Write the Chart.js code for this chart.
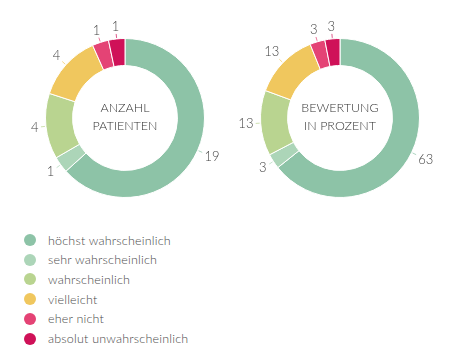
<!DOCTYPE html>
<html>
<head>
<meta charset="utf-8">
<script src="https://cdn.jsdelivr.net/npm/chart.js@4"></script>
<style>
  html, body { margin:0; padding:0; background:#fff; width:474px; height:359px; overflow:hidden; }
  body { position:relative; font-family: "Lato", "Open Sans", sans-serif; }
  .wrap { position:absolute; width:240px; height:220px; }
  #legend { position:absolute; left:0; top:230px; }
  .row { position:absolute; left:0; height:20px; display:flex; align-items:center; white-space:nowrap; }
  .dot { position:absolute; left:23.5px; width:12px; height:12px; border-radius:50%; }
  .lbl { position:absolute; left:48px; font-size:12.5px; font-weight:300; color:#4a4a4a; letter-spacing:0.2px; }
</style>
</head>
<body>
<div class="wrap" style="left:4.5px; top:7.5px;"><canvas id="c1" width="240" height="220"></canvas></div>
<div class="wrap" style="left:219.5px; top:7.5px;"><canvas id="c2" width="240" height="220"></canvas></div>
<div id="legend"></div>
<script>
const categories = ["höchst wahrscheinlich", "sehr wahrscheinlich", "wahrscheinlich", "vielleicht", "eher nicht", "absolut unwahrscheinlich"];
const anzahlPatienten = [19, 1, 4, 4, 1, 1];
const bewertungProzent = [63, 3, 13, 13, 3, 3];
const centerTitle1 = ["ANZAHL", "PATIENTEN"];
const centerTitle2 = ["BEWERTUNG", "IN PROZENT"];
const colors = ["#8dc3a7", "#acd5b8", "#b9d490", "#f0c75e", "#e44375", "#cf1158"];

const FONT = '300 13px "Lato", "Open Sans", sans-serif';

const labelPlugin = {
  id: 'outLabels',
  afterDatasetsDraw(chart) {
    const ctx = chart.ctx;
    const meta = chart.getDatasetMeta(0);
    const data = chart.data.datasets[0].data;
    ctx.save();
    ctx.font = FONT;
    meta.data.forEach((arc, i) => {
      const p = arc.getProps(['x','y','startAngle','endAngle','outerRadius'], true);
      const a = (p.startAngle + p.endAngle) / 2;
      const c = Math.cos(a), s = Math.sin(a);
      // leader line
      ctx.strokeStyle = colors[i];
      ctx.globalAlpha = 0.7;
      ctx.lineWidth = 1;
      ctx.beginPath();
      ctx.moveTo(p.x + c * (p.outerRadius + 1), p.y + s * (p.outerRadius + 1));
      ctx.lineTo(p.x + c * (p.outerRadius + 5), p.y + s * (p.outerRadius + 5));
      ctx.stroke();
      ctx.globalAlpha = 1;
      const txt = String(data[i]);
      const w = ctx.measureText(txt).width;
      const h = 9;
      const r = p.outerRadius + 7 + Math.abs(c) * w / 2 + Math.abs(s) * h / 2;
      ctx.fillStyle = '#444';
      ctx.textAlign = 'center';
      ctx.textBaseline = 'middle';
      ctx.fillText(txt, p.x + c * r, p.y + s * r);
    });
    ctx.restore();
  }
};

const centerPlugin = {
  id: 'centerText',
  afterDraw(chart) {
    const lines = chart.options.plugins.centerText.lines;
    const ctx = chart.ctx;
    const arc = chart.getDatasetMeta(0).data[0];
    const cx = arc.x, cy = arc.y;
    ctx.save();
    ctx.font = '300 12.5px "Lato", "Open Sans", sans-serif';
    ctx.fillStyle = '#333';
    ctx.textAlign = 'center';
    ctx.textBaseline = 'middle';
    ctx.fillText(lines[0], cx, cy - 10);
    ctx.fillText(lines[1], cx, cy + 8);
    ctx.restore();
  }
};

function makeChart(id, values, lines) {
  return new Chart(document.getElementById(id), {
    type: 'doughnut',
    data: {
      labels: categories,
      datasets: [{
        data: values,
        backgroundColor: colors,
        borderColor: '#ffffff',
        borderWidth: 1,
        hoverOffset: 0
      }]
    },
    options: {
      responsive: false,
      animation: false,
      cutout: '66%',
      layout: { padding: { left: 40, right: 40, top: 30, bottom: 30 } },
      events: [],
      plugins: {
        legend: { display: false },
        tooltip: { enabled: false },
        centerText: { lines: lines }
      }
    },
    plugins: [labelPlugin, centerPlugin]
  });
}

makeChart('c1', anzahlPatienten, centerTitle1);
makeChart('c2', bewertungProzent, centerTitle2);

const legend = document.getElementById('legend');
categories.forEach((name, i) => {
  const row = document.createElement('div');
  row.className = 'row';
  row.style.top = (i * 19.7) + 'px';
  const dot = document.createElement('div');
  dot.className = 'dot';
  dot.style.background = colors[i];
  dot.style.top = '4px';
  const lbl = document.createElement('div');
  lbl.className = 'lbl';
  lbl.textContent = name;
  row.appendChild(dot);
  row.appendChild(lbl);
  legend.appendChild(row);
});
</script>
</body>
</html>
